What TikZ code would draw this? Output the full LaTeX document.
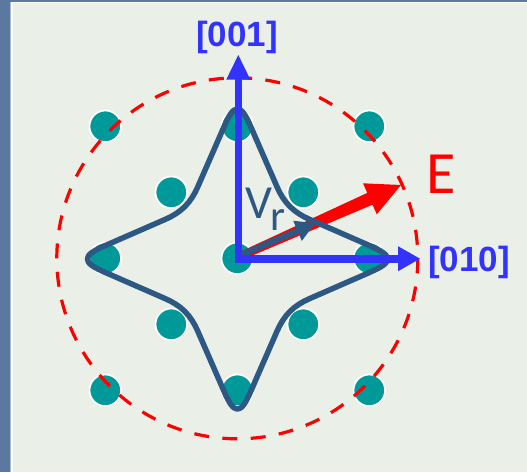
\documentclass[tikz,border=0pt]{standalone}
\usepackage{fontspec}
\newfontfamily\labfont{Liberation Sans}
\newfontfamily\calfont{Carlito}
\definecolor{panel}{RGB}{234,240,232}
\definecolor{strip}{RGB}{90,120,160}
\definecolor{stripline}{RGB}{170,190,218}
\definecolor{dotteal}{RGB}{0,153,153}
\definecolor{axisblue}{RGB}{51,51,255}
\definecolor{curveblue}{RGB}{46,88,132}
\definecolor{ered}{RGB}{255,0,0}
\begin{document}
\begin{tikzpicture}[x=1pt,y=-1pt,
  dot/.style={circle,fill=dotteal,draw=white,line width=1.7pt,minimum size=31.6pt,inner sep=0pt},
  axislab/.style={font=\labfont\bfseries\fontsize{35}{40}\selectfont,text=axisblue,anchor=base,inner sep=0pt},
  callab/.style={font=\calfont,anchor=base,inner sep=0pt}]
\useasboundingbox (0,0) rectangle (527,472);
% background
\fill[strip] (0,0) rectangle (527,472);
\fill[white] (10,1.7) rectangle (527,472);
\fill[stripline] (10,1.7) rectangle (11,472);
\fill[panel] (12.5,3) rectangle (527,472);
% lattice dots
\foreach \i/\j [count=\k] in {-2/-2,2/-2,-2/2,2/2,0/-2,0/2,-2/0,2/0,-1/-1,1/-1,-1/1,1/1,0/0}
  \node[dot] (d\k) at ({237.3+66*\i},{258.3+66*\j}) {};
% dashed circle
\coordinate (C) at (237.3,258.3);
\draw[ered,line width=3.2pt,dash pattern=on 15pt off 13.35pt] (C) circle[radius=180.5];
% E arrow (red, tapered)
\fill[ered] (240.1,260.7) -- (372.5,204.7) -- (376.8,214.3) -- (401,185)
  -- (363.0,183.3) -- (367.3,192.9) -- (236.9,253.3) -- cycle;
% star-shaped curve
\draw[curveblue,line width=5.5pt,line join=round,shift={(237.4,259)}]
  (150,0) .. controls (150,4.5) and (144,8.3) .. (132,13.5) -- (72,39.7)
    .. controls (65,42.7) and (58,47) .. (52.5,52.5)
    .. controls (47,58) and (42.7,65) .. (39.7,72) -- (13.5,132)
    .. controls (8.3,144) and (4.5,150) .. (0,150)
    .. controls (-4.5,150) and (-8.3,144) .. (-13.5,132) -- (-39.7,72)
    .. controls (-42.7,65) and (-47,58) .. (-52.5,52.5)
    .. controls (-58,47) and (-65,42.7) .. (-72,39.7) -- (-132,13.5)
    .. controls (-144,8.3) and (-150,4.5) .. (-150,0)
    .. controls (-150,-4.5) and (-144,-8.3) .. (-132,-13.5) -- (-72,-39.7)
    .. controls (-65,-42.7) and (-58,-47) .. (-52.5,-52.5)
    .. controls (-47,-58) and (-42.7,-65) .. (-39.7,-72) -- (-13.5,-132)
    .. controls (-8.3,-144) and (-4.5,-150) .. (0,-150)
    .. controls (4.5,-150) and (8.3,-144) .. (13.5,-132) -- (39.7,-72)
    .. controls (42.7,-65) and (47,-58) .. (52.5,-52.5)
    .. controls (58,-47) and (65,-42.7) .. (72,-39.7) -- (132,-13.5)
    .. controls (144,-8.3) and (150,-4.5) .. (150,0) -- cycle;
% V_r arrow
\fill[curveblue] (240.3,258.9) -- (298.8,233.7) -- (301.8,240.9) -- (315,223.3)
  -- (293.2,220.7) -- (296.2,227.9) -- (237.7,253.1) -- cycle;
% axes
\coordinate (O) at (238.5,258.7);
\coordinate (Ytop) at (238.5,79);
\coordinate (Xend) at (399,258.7);
\draw[axisblue,line width=7.6pt,line join=miter,line cap=butt] (Ytop) -- (O) -- (Xend);
\fill[axisblue] (238.3,55) -- (226.3,79.5) -- (250.3,79.5) -- cycle;
\fill[axisblue] (420,258.7) -- (398,246.2) -- (398,271.2) -- cycle;
% labels
\node[axislab] (l001) at (237,46.7) {[001]};
\node[axislab] (l010) at (469,271.7) {[010]};
\node[callab,text=ered,font=\calfont\fontsize{60}{70}\selectfont] (lE) at (441,193.3) {E};
\node[callab,text=curveblue,font=\calfont\fontsize{47.5}{55}\selectfont] (lV) at (258.5,218.3) {V};
\node[callab,text=curveblue,font=\calfont\fontsize{43}{50}\selectfont] (lr) at (277.5,230) {r};
\end{tikzpicture}
\end{document}
